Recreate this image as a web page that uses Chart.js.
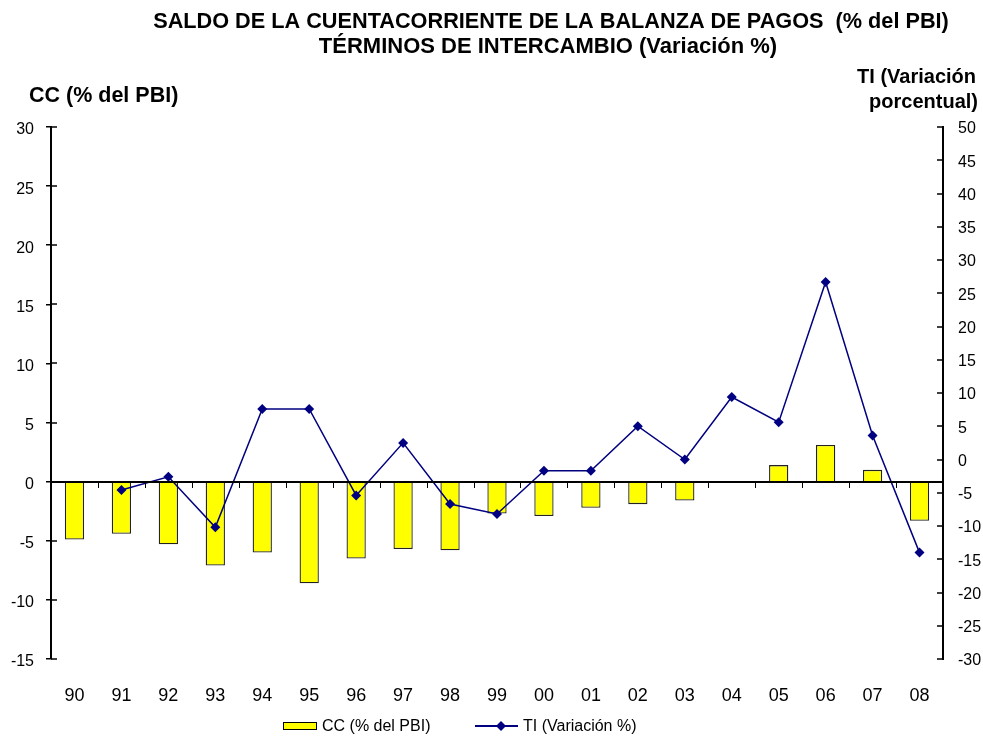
<!DOCTYPE html>
<html>
<head>
<meta charset="utf-8">
<script src="https://cdn.jsdelivr.net/npm/chart.js@4.4.1/dist/chart.umd.min.js"></script>
<style>
html,body{margin:0;padding:0;background:#fff;}
#wrap{width:983px;height:737px;position:relative;}
</style>
</head>
<body>
<div id="wrap"><canvas id="c" width="983" height="737"></canvas></div>
<script>
const categories = ['90','91','92','93','94','95','96','97','98','99','00','01','02','03','04','05','06','07','08'];
const ccValues = [-4.9,-4.4,-5.3,-7.1,-6.0,-8.6,-6.5,-5.7,-5.8,-2.7,-2.9,-2.2,-1.9,-1.6,-0.1,1.4,3.1,1.0,-3.3];
const tiValues = [null,-4.6,-2.6,-10.2,7.6,7.6,-5.4,2.5,-6.7,-8.2,-1.7,-1.7,5.0,0.0,9.4,5.6,26.7,3.6,-14.0];
const titleLines = ['SALDO DE LA CUENTACORRIENTE DE LA BALANZA DE PAGOS  (% del PBI)','TÉRMINOS DE INTERCAMBIO (Variación %)'];
const leftTitle = 'CC (% del PBI)';
const rightTitle = ['TI (Variación','porcentual)'];
const legendLabels = ['CC (% del PBI)','TI (Variación %)'];

const FONT = '"Liberation Sans", Arial, sans-serif';

const deco = {
  id: 'deco',
  afterDatasetsDraw(chart) {
    const ctx = chart.ctx;
    const ca = chart.chartArea;
    const yL = chart.scales.y, yR = chart.scales.y1, x = chart.scales.x;
    ctx.save();
    ctx.strokeStyle = '#000';
    ctx.lineWidth = 2;
    const z = Math.round(yL.getPixelForValue(0));
    ctx.beginPath(); ctx.moveTo(ca.left, z); ctx.lineTo(ca.right, z); ctx.stroke();
    ctx.lineWidth = 1;
    const n = categories.length;
    for (let i = 1; i < n; i++) {
      const px = Math.round((x.getPixelForTick(i - 1) + x.getPixelForTick(i)) / 2) + 0.5;
      ctx.beginPath(); ctx.moveTo(px, z); ctx.lineTo(px, z + 6); ctx.stroke();
    }
    ctx.lineWidth = 1.5;
    yL.ticks.forEach((t) => {
      const py = Math.round(yL.getPixelForValue(t.value));
      ctx.beginPath(); ctx.moveTo(ca.left, py); ctx.lineTo(ca.left + 6, py); ctx.stroke();
    });
    yR.ticks.forEach((t) => {
      const py = Math.round(yR.getPixelForValue(t.value));
      ctx.beginPath(); ctx.moveTo(ca.right - 6, py); ctx.lineTo(ca.right, py); ctx.stroke();
    });
    ctx.restore();
  },
  afterDraw(chart) {
    const ctx = chart.ctx;
    ctx.save();
    ctx.fillStyle = '#000';
    ctx.textBaseline = 'middle';
    ctx.font = 'bold 21.7px ' + FONT;
    ctx.textAlign = 'center';
    ctx.fillText(titleLines[0], 551, 22);
    ctx.font = 'bold 22px ' + FONT;
    ctx.fillText(titleLines[1], 548, 47);
    ctx.font = 'bold 21.5px ' + FONT;
    ctx.textAlign = 'left';
    ctx.fillText(leftTitle, 29, 96);
    ctx.font = 'bold 20px ' + FONT;
    ctx.textAlign = 'right';
    ctx.fillText(rightTitle[0], 976, 77);
    ctx.fillText(rightTitle[1], 978, 102);
    // legend
    const ly = 726;
    ctx.fillStyle = '#FFFF00';
    ctx.strokeStyle = '#000';
    ctx.lineWidth = 1;
    ctx.fillRect(283, ly - 4, 34, 8);
    ctx.strokeRect(283.5, ly - 3.5, 33, 7);
    ctx.fillStyle = '#000';
    ctx.font = '16px ' + FONT;
    ctx.textAlign = 'left';
    ctx.fillText(legendLabels[0], 322, ly + 1);
    ctx.strokeStyle = '#000080';
    ctx.lineWidth = 2;
    ctx.beginPath(); ctx.moveTo(475, ly); ctx.lineTo(518, ly); ctx.stroke();
    ctx.fillStyle = '#000080';
    ctx.beginPath(); ctx.moveTo(501, ly - 5); ctx.lineTo(506, ly); ctx.lineTo(501, ly + 5); ctx.lineTo(496, ly); ctx.closePath(); ctx.fill();
    ctx.fillStyle = '#000';
    ctx.fillText(legendLabels[1], 523, ly + 1);
    ctx.restore();
  }
};

new Chart(document.getElementById('c'), {
  data: {
    labels: categories,
    datasets: [
      {
        type: 'line',
        label: legendLabels[1],
        data: tiValues,
        yAxisID: 'y1',
        borderColor: '#000080',
        backgroundColor: '#000080',
        borderWidth: 1.5,
        pointStyle: 'rectRot',
        pointRadius: 5,
        pointHoverRadius: 5,
        pointBorderWidth: 0,
        tension: 0,
        order: 0
      },
      {
        type: 'bar',
        label: legendLabels[0],
        data: ccValues,
        yAxisID: 'y',
        backgroundColor: '#FFFF00',
        borderColor: '#222',
        borderWidth: 1.3,
        categoryPercentage: 1,
        barPercentage: 0.41,
        order: 1
      }
    ]
  },
  options: {
    responsive: false,
    animation: false,
    devicePixelRatio: 1,
    layout: { padding: { top: 127, left: 0, right: 0, bottom: 0 } },
    plugins: { legend: { display: false }, title: { display: false }, tooltip: { enabled: false } },
    scales: {
      x: {
        type: 'category',
        offset: true,
        grid: { display: false },
        border: { display: false },
        ticks: { color: '#000', font: { family: FONT, size: 18 }, padding: 18, maxRotation: 0, autoSkip: false },
        afterFit(s) { s.height = 78; }
      },
      y: {
        type: 'linear',
        position: 'left',
        min: -15, max: 30,
        ticks: { stepSize: 5, color: '#000', font: { family: FONT, size: 16 }, padding: 12, labelOffset: 3 },
        grid: { drawOnChartArea: false, tickLength: 5, color: '#000', lineWidth: 1.5, tickColor: '#000' },
        border: { display: true, color: '#000', width: 2 },
        afterFit(s) { s.width = 51; }
      },
      y1: {
        type: 'linear',
        position: 'right',
        min: -30, max: 50,
        ticks: { stepSize: 5, color: '#000', font: { family: FONT, size: 16 }, padding: 15, labelOffset: 2 },
        grid: { drawOnChartArea: false, drawTicks: false },
        border: { display: true, color: '#000', width: 2 },
        afterFit(s) { s.width = 40; }
      }
    }
  },
  plugins: [deco]
});
</script>
</body>
</html>
